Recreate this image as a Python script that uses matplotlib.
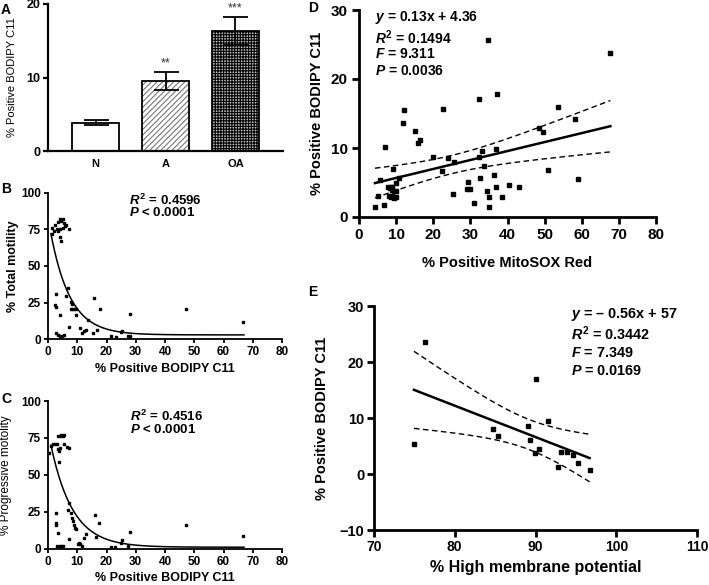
import numpy as np
import matplotlib
matplotlib.use('Agg')
import matplotlib.pyplot as plt

plt.rcParams['font.family'] = ['Liberation Sans', 'DejaVu Sans']
plt.rcParams['mathtext.fontset'] = 'custom'
plt.rcParams['mathtext.rm'] = 'Liberation Sans:bold'
plt.rcParams['mathtext.it'] = 'Liberation Sans:italic:bold'
plt.rcParams['mathtext.bf'] = 'Liberation Sans:bold'
plt.rcParams['hatch.linewidth'] = 0.8

# ---------------- Panel A: bar chart ----------------
groups = ['N', 'A', 'OA']
bodipy_mean = [3.85, 9.5, 16.3]
bodipy_err = [0.35, 1.25, 1.9]
stars = ['', '**', '***']

# ---------------- Panel B: total motility vs BODIPY ----------------
b_x = [1.3, 1.5, 2.0, 2.5, 3.0, 3.5, 4.0, 4.5, 5.0, 5.5, 4.2, 4.5, 4.0, 5.8, 6.2, 7.2, 3.5, 5.2,
       2.7, 2.4, 2.7, 4.1, 2.8, 3.5, 4.2, 5.6, 4.8, 6.9, 6.2, 7.3, 7.9, 8.1, 7.9, 8.5, 9.0, 9.5,
       9.5, 10.9, 11.5, 12.3, 13.0, 13.8, 15.5, 15.7, 16.8, 17.7, 21.7, 23.4, 25.1, 25.4, 27.4,
       28.2, 28.2, 47.3, 66.7]
b_y = [76, 72, 74, 78, 75, 80, 82, 81, 82, 79, 70, 67, 75, 77, 78, 75, 74, 76,
       31.1, 23.4, 22.2, 16.6, 4.0, 3.0, 2.0, 3.2, 2.5, 35.0, 29.5, 8.6, 25.7, 24.0, 20.4, 20.4, 20.4, 20.4,
       16.6, 7.7, 4.3, 5.5, 6.5, 13.2, 4.0, 28.4, 6.3, 20.4, 2.3, 1.4, 5.2, 5.8, 2.0,
       2.0, 17.2, 20.5, 12.0]
b_fit_top, b_fit_plateau, b_fit_k = 83.2, 3.0, 0.15
b_fit_range = (1.0, 67.0)

# ---------------- Panel C: progressive motility vs BODIPY ----------------
c_x = [0.45, 1.0, 1.8, 2.3, 3.0, 3.5, 4.0, 4.5, 5.0, 5.3, 3.5, 3.8, 4.1, 3.8, 5.5, 6.5, 7.3,
       2.7, 2.7, 2.7, 3.5, 3.1, 4.0, 4.6, 5.1, 6.7, 7.3, 7.3, 7.9, 8.1, 8.5, 8.8, 9.1, 9.6,
       10.2, 10.5, 11.0, 11.5, 12.3, 13.0, 15.9, 16.5, 17.4, 21.7, 22.9, 25.1, 25.4, 28.2, 27.4,
       47.3, 66.7]
c_y = [64.6, 69.5, 71, 71, 71, 76, 76, 77, 76.5, 77, 67.5, 66, 68, 58.5, 71, 69, 68,
       24.4, 17.2, 16.0, 10.4, 2.0, 1.5, 2.0, 1.8, 26, 31, 6.3, 24, 21, 19, 16, 14, 13,
       3.0, 4.0, 3.5, 2.0, 7.0, 10.0, 22.8, 7.7, 17.6, 1.0, 1.2, 4.0, 6.0, 11.3, 1.5,
       16.0, 8.6]
c_fit_top, c_fit_plateau, c_fit_k = 80.0, 1.0, 0.134
c_fit_range = (1.0, 67.0)

# ---------------- Panel D: BODIPY vs MitoSOX ----------------
d_x = [4.3, 5.0, 5.6, 6.8, 7.0, 7.9, 8.3, 8.6, 9.0, 8.8, 8.1, 8.6, 9.0, 9.5, 9.9, 9.2, 9.5, 9.9,
       9.9, 10.8, 11.9, 12.2, 15.1, 15.8, 16.5, 19.8, 22.3, 22.5, 23.9, 25.2, 25.7, 29.3, 29.1,
       30.0, 30.9, 32.3, 32.4, 32.7, 33.2, 33.6, 34.8, 34.5, 34.9, 34.9, 36.3, 36.8, 36.8, 37.2,
       38.6, 40.4, 43.2, 48.5, 49.5, 50.9, 53.6, 58.1, 59.0, 67.7]
d_y = [1.5, 3.0, 5.4, 1.7, 10.2, 4.3, 4.2, 4.4, 4.4, 3.9, 3.0, 2.9, 3.0, 2.8, 2.9, 6.9, 3.8, 3.7,
       4.9, 5.6, 13.6, 15.5, 12.5, 10.7, 11.1, 8.7, 6.7, 15.6, 8.5, 3.4, 8.0, 5.1, 4.0,
       4.0, 2.0, 17.1, 8.7, 5.6, 9.6, 7.4, 25.7, 3.7, 1.5, 2.9, 6.1, 9.9, 4.4, 17.8,
       2.9, 4.6, 4.3, 12.9, 12.3, 6.8, 15.9, 14.2, 5.5, 23.7]
d_slope, d_intercept, d_t = 0.13, 4.36, 2.006

# ---------------- Panel E: BODIPY vs membrane potential ----------------
e_x = [74.95, 76.3, 84.7, 85.4, 89.1, 89.3, 89.9, 90.1, 90.4, 91.6, 92.8, 93.1, 93.9, 94.7, 95.3, 96.7]
e_y = [5.36, 23.6, 8.0, 6.8, 8.6, 6.0, 3.7, 17.0, 4.5, 9.5, 1.3, 4.0, 4.0, 3.4, 1.9, 0.8]
e_slope, e_intercept, e_t = -0.56, 57.0, 2.145

W, H = 709, 585
fig = plt.figure(figsize=(W / 100, H / 100), dpi=100)


def ax_px(left, top, right, bottom):
    return fig.add_axes([left / W, 1 - bottom / H, (right - left) / W, (bottom - top) / H])


def style(ax, lw, fs, ticklen=4, pad=2):
    for s in ['top', 'right']:
        ax.spines[s].set_visible(False)
    for s in ['left', 'bottom']:
        ax.spines[s].set_linewidth(lw)
    ax.tick_params(direction='out', length=ticklen, width=lw, labelsize=fs, pad=pad)
    for lab in ax.get_xticklabels() + ax.get_yticklabels():
        lab.set_fontweight('bold')


# ---- A ----
axA = ax_px(48, 4, 283, 151)
pos = np.arange(len(groups))
axA.bar(pos[0], bodipy_mean[0], width=0.67, color='white', edgecolor='black', linewidth=1.3, zorder=2)
axA.bar(pos[1], bodipy_mean[1], width=0.67, color='white', edgecolor='#777777', hatch='//////',
        linewidth=0, zorder=2)
axA.bar(pos[1], bodipy_mean[1], width=0.67, color='none', edgecolor='black', linewidth=1.3, zorder=3)
axA.bar(pos[2], bodipy_mean[2], width=0.67, color='#bbbbbb', edgecolor='black', hatch='++++++',
        linewidth=0, zorder=2)
axA.bar(pos[2], bodipy_mean[2], width=0.67, color='none', edgecolor='black', linewidth=1.3, zorder=3)
axA.errorbar(pos, bodipy_mean, yerr=bodipy_err, fmt='none', ecolor='black', elinewidth=1.3,
             capsize=9, capthick=1.3, zorder=4)
for p, m, e, s in zip(pos, bodipy_mean, bodipy_err, stars):
    if s:
        axA.text(p, m + e + 0.4, s, ha='center', va='bottom', fontsize=9, color='#333333')
axA.set_xlim(-0.68, 2.68)
axA.set_ylim(0, 20)
axA.set_yticks([0, 10, 20])
axA.set_xticks(pos)
axA.set_xticklabels(groups)
style(axA, 1.6, 9, 3.5)
axA.tick_params(axis='x', length=0, pad=6, labelsize=8)
axA.set_ylabel('% Positive BODIPY C11', fontsize=8)
axA.yaxis.set_label_coords(-0.132, 0.5)


def decay(top, plateau, k, rng):
    xs = np.linspace(rng[0], rng[1], 300)
    return xs, plateau + (top - plateau) * np.exp(-k * xs)


# ---- B ----
axB = ax_px(48, 192.7, 282, 339.3)
axB.plot(b_x, b_y, 's', color='black', markersize=2.0, clip_on=False, zorder=3)
xs, ys = decay(b_fit_top, b_fit_plateau, b_fit_k, b_fit_range)
axB.plot(xs, ys, color='black', linewidth=1.1)
axB.set_xlim(0, 80)
axB.set_ylim(0, 100)
axB.set_xticks(range(0, 81, 10))
axB.set_yticks([0, 25, 50, 75, 100])
style(axB, 1.3, 8.5, 3)
axB.set_xlabel('% Positive BODIPY C11', fontsize=9, fontweight='bold')
axB.xaxis.set_label_coords(0.5, -0.162)
axB.set_ylabel('% Total motility', fontsize=9, fontweight='bold')
axB.yaxis.set_label_coords(-0.124, 0.5)
axB.text(0.346, 0.95, r'$R^{\mathrm{2}}$ = 0.4596', transform=axB.transAxes, fontsize=9.5,
         fontweight='bold', va='center')
axB.text(0.346, 0.862, r'$P$ < 0.0001', transform=axB.transAxes, fontsize=9.5,
         fontweight='bold', va='center')

# ---- C ----
axC = ax_px(48, 401, 282, 548.7)
axC.plot(c_x, c_y, 's', color='black', markersize=2.0, clip_on=False, zorder=3)
xs, ys = decay(c_fit_top, c_fit_plateau, c_fit_k, c_fit_range)
axC.plot(xs, ys, color='black', linewidth=1.1)
axC.set_xlim(0, 80)
axC.set_ylim(0, 100)
axC.set_xticks(range(0, 81, 10))
axC.set_yticks([0, 25, 50, 75, 100])
style(axC, 1.3, 8.5, 3)
axC.set_xlabel('% Positive BODIPY C11', fontsize=9, fontweight='bold')
axC.xaxis.set_label_coords(0.5, -0.158)
axC.set_ylabel('% Progressive motolity', fontsize=8.5)
axC.yaxis.set_label_coords(-0.155, 0.5)
axC.text(0.35, 0.898, r'$R^{\mathrm{2}}$ = 0.4516', transform=axC.transAxes, fontsize=9.5,
         fontweight='bold', va='center')
axC.text(0.35, 0.808, r'$P$ < 0.0001', transform=axC.transAxes, fontsize=9.5,
         fontweight='bold', va='center')


def reg_band(x, y, slope, intercept, t):
    x = np.asarray(x, float)
    y = np.asarray(y, float)
    n = len(x)
    resid = y - (slope * x + intercept)
    s = np.sqrt(np.sum(resid ** 2) / (n - 2))
    xbar = x.mean()
    sxx = np.sum((x - xbar) ** 2)
    xs = np.linspace(x.min(), x.max(), 200)
    yfit = slope * xs + intercept
    hw = t * s * np.sqrt(1 / n + (xs - xbar) ** 2 / sxx)
    return xs, yfit, yfit - hw, yfit + hw


# ---- D ----
axD = ax_px(359, 10, 656, 217)
axD.plot(d_x, d_y, 's', color='black', markersize=3.1, clip_on=False, zorder=3)
xs, yf, lo, hi = reg_band(d_x, d_y, d_slope, d_intercept, d_t)
axD.plot(xs, yf, color='black', linewidth=1.8)
axD.plot(xs, lo, color='black', linewidth=1.0, linestyle=(0, (4, 2.5)))
axD.plot(xs, hi, color='black', linewidth=1.0, linestyle=(0, (4, 2.5)))
axD.set_xlim(0, 80)
axD.set_ylim(0, 30)
axD.set_xticks(range(0, 81, 10))
axD.set_yticks([0, 10, 20, 30])
style(axD, 2.0, 11, 5, 3)
axD.set_xlabel('% Positive MitoSOX Red', fontsize=10.5, fontweight='bold')
axD.xaxis.set_label_coords(0.5, -0.188)
axD.set_ylabel('% Positive BODIPY C11', fontsize=10.5, fontweight='bold')
axD.yaxis.set_label_coords(-0.118, 0.5)
for txt, yy in zip([r'$y$ = 0.13x + 4.36', r'$R^{\mathrm{2}}$ = 0.1494', r'$F$ = 9.311', r'$P$ = 0.0036'],
                   [0.965, 0.868, 0.787, 0.707]):
    axD.text(0.054, yy, txt, transform=axD.transAxes, fontsize=10, fontweight='bold', va='center')

# ---- E ----
axE = ax_px(374, 306, 697, 530)
axE.plot(e_x, e_y, 's', color='black', markersize=3.4, clip_on=False, zorder=3)
xs, yf, lo, hi = reg_band(e_x, e_y, e_slope, e_intercept, e_t)
axE.plot(xs, yf, color='black', linewidth=1.8)
axE.plot(xs, lo, color='black', linewidth=1.0, linestyle=(0, (4, 2.5)))
axE.plot(xs, hi, color='black', linewidth=1.0, linestyle=(0, (4, 2.5)))
axE.set_xlim(70, 110)
axE.set_ylim(-10, 30)
axE.set_xticks([70, 80, 90, 100, 110])
axE.set_yticks([-10, 0, 10, 20, 30])
style(axE, 2.0, 10.5, 5, 2)
axE.tick_params(axis='x', labelsize=10)
axE.set_xlabel('% High membrane potential', fontsize=11.5, fontweight='bold')
axE.xaxis.set_label_coords(0.5, -0.134)
axE.set_ylabel('% Positive BODIPY C11', fontsize=10.5, fontweight='bold')
axE.yaxis.set_label_coords(-0.14, 0.5)
for txt, yy in zip([r'$y$ = – 0.56x + 57', r'$R^{\mathrm{2}}$ = 0.3442', r'$F$ = 7.349', r'$P$ = 0.0169'],
                   [0.96, 0.875, 0.79, 0.71]):
    axE.text(0.61, yy, txt, transform=axE.transAxes, fontsize=10.4, fontweight='bold', va='center')

# panel letters
for letter, (px, py) in zip('ABCDE', [(6, 10), (6, 189), (6, 399), (313, 8), (313, 292)]):
    fig.text(px / W, 1 - py / H, letter, fontsize=10, fontweight='bold', va='center', ha='center')

fig.savefig('out.png', dpi=100)
